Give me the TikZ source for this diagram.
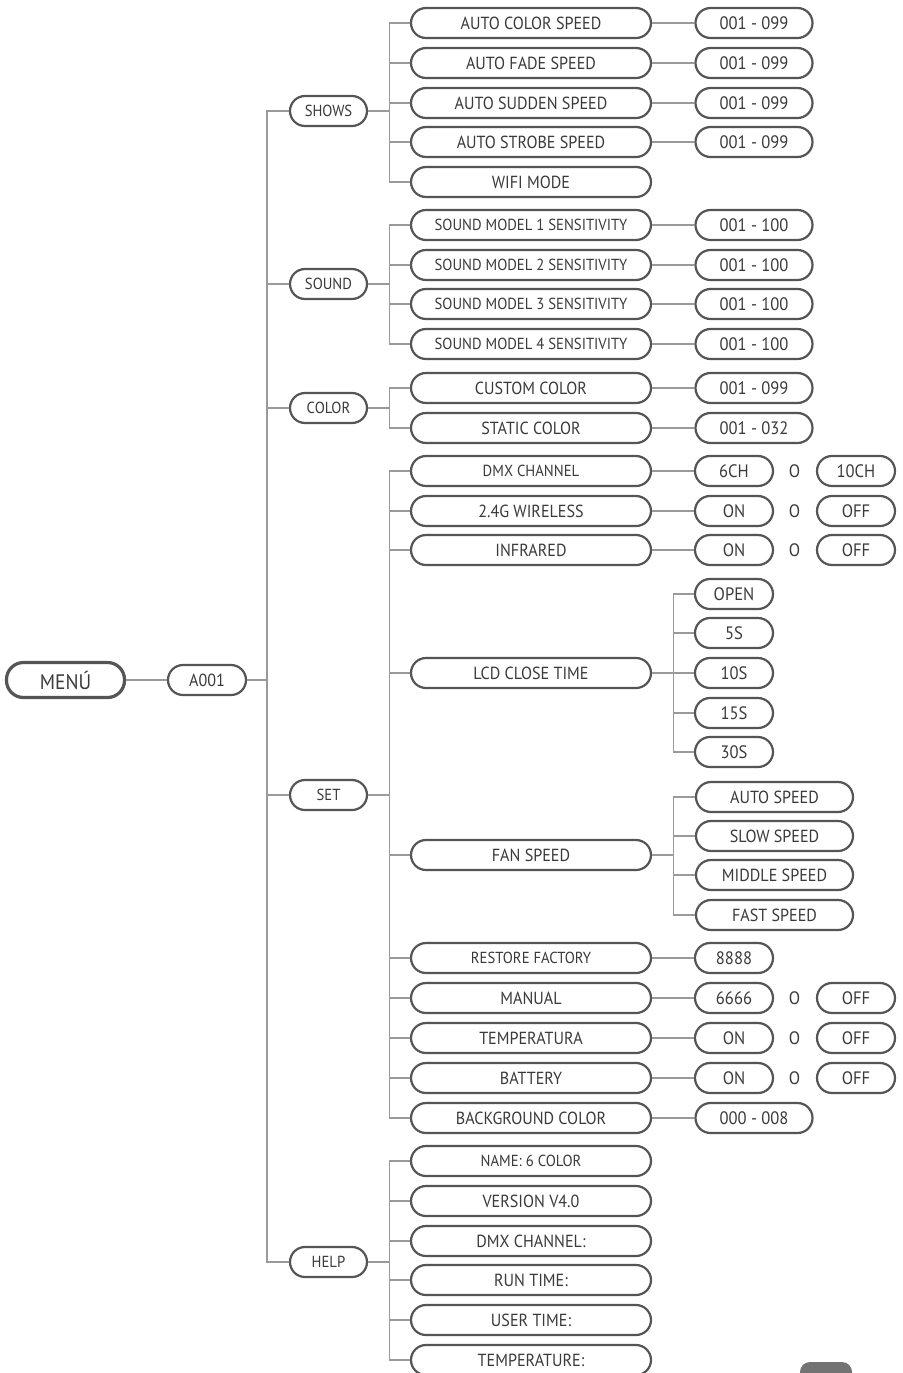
\documentclass[tikz,border=0pt]{standalone}
\usepackage{fontspec}
\setmainfont{PT Sans}[FakeStretch=0.92]
\usetikzlibrary{calc}
\definecolor{boxc}{HTML}{555555}
\definecolor{linec}{HTML}{9A9A9A}
\definecolor{txtc}{HTML}{3A3A3A}
\definecolor{logoc}{HTML}{737373}
\begin{document}
\begin{tikzpicture}[x=1pt,y=-1pt,
  pill/.style={draw=boxc, line width=2.2pt, rounded corners=15pt, fill=white, text=txtc, inner sep=0pt, minimum height=30pt, font=\fontsize{17.5}{17.5}\selectfont},
  l1/.style={pill, minimum width=77pt, font=\fontsize{16}{16}\selectfont},
  l2/.style={pill, minimum width=240pt},
  v3/.style={pill, minimum width=117pt, font=\fontsize{18}{18}\selectfont},
  vs/.style={pill, minimum width=78pt, font=\fontsize{18}{18}\selectfont},
  vf/.style={pill, minimum width=157pt},
  sm/.style={font=\fontsize{16}{16}\selectfont},
  otext/.style={text=txtc, inner sep=0pt, font=\fontsize{18}{18}\selectfont},
  conn/.style={draw=linec, line width=1.3pt},
]
\useasboundingbox (0,0) rectangle (902,1373);
\clip (0,0) rectangle (902,1373);
\fill[white] (0,0) rectangle (902,1373);

% root
\node[pill, minimum width=118pt, minimum height=35pt, rounded corners=17pt, line width=3.2pt, font=\fontsize{21}{21}\selectfont] (menu) at (65.5,680) {MENÚ};
\node[pill, minimum width=78pt] (a001) at (207,680) {A001};

% level 1
\node[l1] (shows) at (328.5,111) {SHOWS};
\node[l1] (sound) at (328.5,284) {SOUND};
\node[l1] (color) at (328.5,408) {COLOR};
\node[l1] (set)   at (328.5,795) {SET};
\node[l1] (help)  at (328.5,1262) {HELP};

% SHOWS
\node[l2] (sh1) at (531,23)  {AUTO COLOR SPEED};
\node[l2] (sh2) at (531,63)  {AUTO FADE SPEED};
\node[l2] (sh3) at (531,103) {AUTO SUDDEN SPEED};
\node[l2] (sh4) at (531,142) {AUTO STROBE SPEED};
\node[l2] (sh5) at (531,182) {WIFI MODE};
\node[v3] (sh1v) at (754,23)  {001 - 099};
\node[v3] (sh2v) at (754,63)  {001 - 099};
\node[v3] (sh3v) at (754,103) {001 - 099};
\node[v3] (sh4v) at (754,142) {001 - 099};

% SOUND
\node[l2,sm] (so1) at (531,225) {SOUND MODEL 1 SENSITIVITY};
\node[l2,sm] (so2) at (531,265) {SOUND MODEL 2 SENSITIVITY};
\node[l2,sm] (so3) at (531,304) {SOUND MODEL 3 SENSITIVITY};
\node[l2,sm] (so4) at (531,344) {SOUND MODEL 4 SENSITIVITY};
\node[v3] (so1v) at (754,225) {001 - 100};
\node[v3] (so2v) at (754,265) {001 - 100};
\node[v3] (so3v) at (754,304) {001 - 100};
\node[v3] (so4v) at (754,344) {001 - 100};

% COLOR
\node[l2] (co1) at (531,388) {CUSTOM COLOR};
\node[l2] (co2) at (531,428) {STATIC COLOR};
\node[v3] (co1v) at (754,388) {001 - 099};
\node[v3] (co2v) at (754,428) {001 - 032};

% SET
\node[l2,sm] (se1) at (531,471)  {DMX CHANNEL};
\node[l2] (se2) at (531,511)  {2.4G WIRELESS};
\node[l2] (se3) at (531,550)  {INFRARED};
\node[l2] (se4) at (531,673)  {LCD CLOSE TIME};
\node[l2] (se5) at (531,855)  {FAN SPEED};
\node[l2,sm] (se6) at (531,958)  {RESTORE FACTORY};
\node[l2] (se7) at (531,998)  {MANUAL};
\node[l2] (se8) at (531,1038) {TEMPERATURA};
\node[l2] (se9) at (531,1078) {BATTERY};
\node[l2] (se10) at (531,1118) {BACKGROUND COLOR};

\node[vs] (se1a) at (734,471) {6CH};
\node[otext] (se1o) at (794.5,471) {O};
\node[vs] (se1b) at (856,471) {10CH};
\node[vs] (se2a) at (734,511) {ON};
\node[otext] (se2o) at (794.5,511) {O};
\node[vs] (se2b) at (856,511) {OFF};
\node[vs] (se3a) at (734,550) {ON};
\node[otext] (se3o) at (794.5,550) {O};
\node[vs] (se3b) at (856,550) {OFF};

\node[vs] (lc1) at (734,594) {OPEN};
\node[vs] (lc2) at (734,633) {5S};
\node[vs] (lc3) at (734,673) {10S};
\node[vs] (lc4) at (734,713) {15S};
\node[vs] (lc5) at (734,752) {30S};

\node[vf] (fa1) at (774.5,797) {AUTO SPEED};
\node[vf] (fa2) at (774.5,836) {SLOW SPEED};
\node[vf] (fa3) at (774.5,875) {MIDDLE SPEED};
\node[vf] (fa4) at (774.5,915) {FAST SPEED};

\node[vs] (se6a) at (734,958) {8888};
\node[vs] (se7a) at (734,998) {6666};
\node[otext] (se7o) at (794.5,998) {O};
\node[vs] (se7b) at (856,998) {OFF};
\node[vs] (se8a) at (734,1038) {ON};
\node[otext] (se8o) at (794.5,1038) {O};
\node[vs] (se8b) at (856,1038) {OFF};
\node[vs] (se9a) at (734,1078) {ON};
\node[otext] (se9o) at (794.5,1078) {O};
\node[vs] (se9b) at (856,1078) {OFF};
\node[v3] (se10a) at (754,1118) {000 - 008};

% HELP
\node[l2,sm] (he1) at (531,1161) {NAME: 6 COLOR};
\node[l2] (he2) at (531,1201) {VERSION V4.0};
\node[l2] (he3) at (531,1241) {DMX CHANNEL:};
\node[l2] (he4) at (531,1280) {RUN TIME:};
\node[l2] (he5) at (531,1320) {USER TIME:};
\node[l2] (he6) at (531,1360) {TEMPERATURE:};

% connectors
\draw[conn] (menu.east) -- (a001.west);
\foreach \n in {shows,sound,color,set,help}
  \draw[conn] (a001.east) -- ++(20,0) |- (\n.west);
\foreach \n in {sh1,sh2,sh3,sh4,sh5}
  \draw[conn] (shows.east) -- ++(21.5,0) |- (\n.west);
\foreach \n in {so1,so2,so3,so4}
  \draw[conn] (sound.east) -- ++(21.5,0) |- (\n.west);
\foreach \n in {co1,co2}
  \draw[conn] (color.east) -- ++(21.5,0) |- (\n.west);
\foreach \n in {se1,se2,se3,se4,se5,se6,se7,se8,se9,se10}
  \draw[conn] (set.east) -- ++(21.5,0) |- (\n.west);
\foreach \n in {he1,he2,he3,he4,he5,he6}
  \draw[conn] (help.east) -- ++(21.5,0) |- (\n.west);
\foreach \a/\b in {sh1/sh1v,sh2/sh2v,sh3/sh3v,sh4/sh4v,so1/so1v,so2/so2v,so3/so3v,so4/so4v,co1/co1v,co2/co2v,se1/se1a,se2/se2a,se3/se3a,se6/se6a,se7/se7a,se8/se8a,se9/se9a,se10/se10a}
  \draw[conn] (\a.east) -- (\b.west);
\foreach \n in {lc1,lc2,lc3,lc4,lc5}
  \draw[conn] (se4.east) -- ++(21.5,0) |- (\n.west);
\foreach \n in {fa1,fa2,fa3,fa4}
  \draw[conn] (se5.east) -- ++(21.5,0) |- (\n.west);

% partial logo at bottom edge
\fill[logoc, rounded corners=10pt] (800,1362) rectangle (852,1400);
\end{tikzpicture}
\end{document}
